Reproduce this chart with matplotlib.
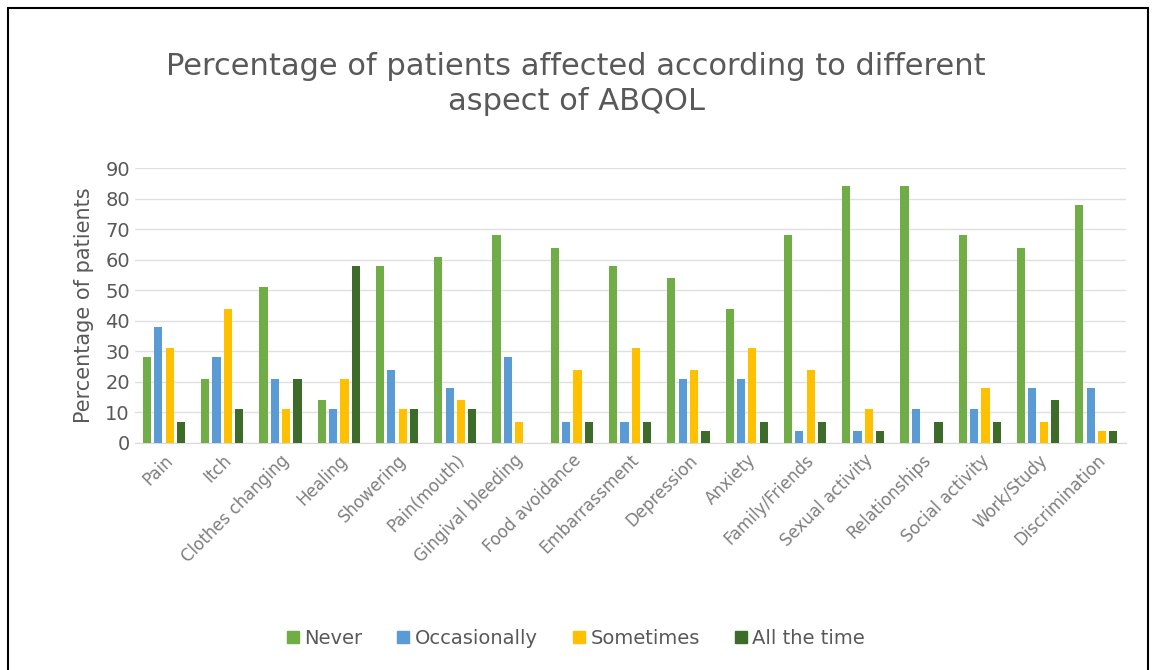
import matplotlib.pyplot as plt
import matplotlib.patches as mpatches
import numpy as np

categories = ["Pain", "Itch", "Clothes changing", "Healing", "Showering",
              "Pain(mouth)", "Gingival bleeding", "Food avoidance",
              "Embarrassment", "Depression", "Anxiety", "Family/Friends",
              "Sexual activity", "Relationships", "Social activity",
              "Work/Study", "Discrimination"]

never = [28, 21, 51, 14, 58, 61, 68, 64, 58, 54, 44, 68, 84, 84, 68, 64, 78]
occasionally = [38, 28, 21, 11, 24, 18, 28, 7, 7, 21, 21, 4, 4, 11, 11, 18, 18]
sometimes = [31, 44, 11, 21, 11, 14, 7, 24, 31, 24, 31, 24, 11, 0, 18, 7, 4]
all_the_time = [7, 11, 21, 58, 11, 11, 0, 7, 7, 4, 7, 7, 4, 7, 7, 14, 4]

series = [("Never", never, "#70AD47"),
          ("Occasionally", occasionally, "#5B9BD5"),
          ("Sometimes", sometimes, "#FFC000"),
          ("All the time", all_the_time, "#3D6B2A")]

fig = plt.figure(figsize=(11.52, 6.7), dpi=100)
ax = fig.add_axes([0.117, 0.339, 0.86, 0.41])

x = np.arange(len(categories))
bw = 0.14
step = 0.195
for i, (name, vals, col) in enumerate(series):
    ax.bar(x + (i - 1.5) * step, vals, width=bw, color=col, label=name, zorder=3)

ax.set_ylim(0, 90)
ax.set_yticks(range(0, 91, 10))
ax.set_xlim(-0.5, len(categories) - 0.5)
ax.set_xticks(x)
ax.set_xticklabels(categories, rotation=45, ha="right", rotation_mode="anchor",
                   fontsize=12, color="#7f7f7f")
ax.tick_params(axis="y", labelsize=14, colors="#595959", length=0)
ax.tick_params(axis="x", length=0, pad=6)
ax.grid(axis="y", color="#e0e0e0", linewidth=1, zorder=0)
for s in ["top", "right", "left"]:
    ax.spines[s].set_visible(False)
ax.spines["bottom"].set_color("#d9d9d9")

ax.set_ylabel("Percentage of patients", fontsize=15, color="#595959", labelpad=8)

fig.text(0.5, 0.875, "Percentage of patients affected according to different\naspect of ABQOL",
         ha="center", va="center", fontsize=22, color="#595959", linespacing=1.25)

handles = [mpatches.Patch(color=c, label=n) for n, _, c in series]
fig.legend(handles=handles, loc="center", bbox_to_anchor=(0.5, 0.047), ncol=4,
           frameon=False, fontsize=14, handlelength=0.6, handleheight=0.6,
           handletextpad=0.3, columnspacing=1.8, labelcolor="#595959")

border = mpatches.Rectangle((8 / 1152, -0.05), 1140 / 1152, 1.05 - 8 / 670,
                            transform=fig.transFigure, fill=False,
                            edgecolor="black", linewidth=1.5)
fig.patches.append(border)

fig.savefig("out.png", dpi=100)
